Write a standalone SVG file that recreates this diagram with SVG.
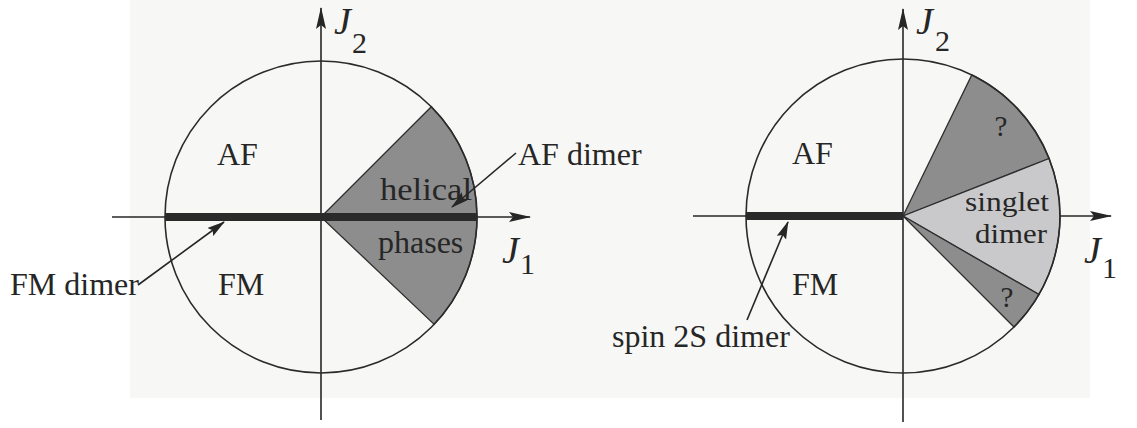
<svg xmlns="http://www.w3.org/2000/svg" width="1137" height="428" viewBox="0 0 1137 428">
<style>
.t{font-family:"Liberation Serif","Times New Roman",serif;font-size:32px;fill:#262626}
.sd{font-family:"Liberation Serif","Times New Roman",serif;font-size:28px;fill:#262626}
.j{font-family:"Liberation Serif","Times New Roman",serif;font-size:38px;font-style:italic;fill:#262626}
.s{font-family:"Liberation Serif","Times New Roman",serif;font-size:30px;fill:#262626}
.q{font-family:"Liberation Serif","Times New Roman",serif;font-size:29px;fill:#262626;text-anchor:middle}
.axis{stroke:#262626;stroke-width:1.6;fill:none}
.bar{stroke:#2a2a2a;stroke-width:8;fill:none}
.circ{stroke:#2a2a2a;stroke-width:1.6;fill:none}
.dark{fill:#8d8d8d;stroke:#2e2e2e;stroke-width:1.3}
.light{fill:#c9c9cb;stroke:#2e2e2e;stroke-width:1.3}
.ptr{stroke:#262626;stroke-width:1.6;fill:none}
</style>
<defs>
<marker id="ax" viewBox="0 0 22 10" refX="21" refY="5" markerWidth="22" markerHeight="10" markerUnits="userSpaceOnUse" orient="auto">
<path d="M0,0 L22,5 L0,10 L4,5 Z" fill="#262626"/>
</marker>
<marker id="pt" viewBox="0 0 18 10" refX="17" refY="5" markerWidth="18" markerHeight="10" markerUnits="userSpaceOnUse" orient="auto">
<path d="M0,0 L18,5 L0,10 L3,5 Z" fill="#262626"/>
</marker>
</defs>
<rect x="0" y="0" width="1137" height="428" fill="#ffffff"/>
<rect x="130" y="0" width="960" height="398" fill="#f7f7f5"/>

<g id="connectors">
<line class="axis" x1="321" y1="420" x2="321" y2="8" marker-end="url(#ax)"/>
<line class="axis" x1="112" y1="217" x2="530" y2="217" marker-end="url(#ax)"/>
<line class="axis" x1="903" y1="422" x2="903" y2="9" marker-end="url(#ax)"/>
<line class="axis" x1="693" y1="216" x2="1111" y2="216" marker-end="url(#ax)"/>
</g>

<g id="left-diagram">
<g id="helical-phases">
<path class="dark" d="M321,217 L431.3,106.7 A156,156 0 0,1 434.2,324.4 Z"/>
<text class="t" x="380" y="200" textLength="92" lengthAdjust="spacingAndGlyphs">helical</text>
<text class="t" x="378" y="253">phases</text>
</g>
<circle class="circ" cx="321" cy="217" r="156"/>
<g id="af-dimer-bar"><line class="bar" x1="165" y1="217" x2="477" y2="217"/></g>
<g id="left-af"><text class="t" x="217" y="165">AF</text></g>
<g id="left-fm"><text class="t" x="218" y="295">FM</text></g>
<g id="left-j2"><text class="j" x="334" y="34">J</text><text class="s" x="352" y="53">2</text></g>
<g id="left-j1"><text class="j" x="502" y="263">J</text><text class="s" x="520" y="274">1</text></g>
<g id="af-dimer-label"><text class="t" x="518" y="165">AF dimer</text></g>
<g id="fm-dimer-label"><text class="t" x="10" y="295">FM dimer</text></g>
</g>

<g id="right-diagram">
<g id="q-upper">
<path class="dark" d="M903,216 L971.8,74.9 A157,157 0 0,1 1049.1,158.5 Z"/>
<text class="q" x="1001" y="136">?</text>
</g>
<g id="singlet-dimer">
<path class="light" d="M903,216 L1049.1,158.5 A157,157 0 0,1 1039,294.5 Z"/>
<text class="sd" x="965" y="211" textLength="84" lengthAdjust="spacingAndGlyphs">singlet</text>
<text class="sd" x="975" y="243" textLength="72" lengthAdjust="spacingAndGlyphs">dimer</text>
</g>
<g id="q-lower">
<path class="dark" d="M903,216 L1039,294.5 A157,157 0 0,1 1014,327 Z"/>
<text class="q" x="1007" y="307">?</text>
</g>
<circle class="circ" cx="903" cy="216" r="157"/>
<g id="spin-bar"><line class="bar" x1="746" y1="216" x2="903" y2="216"/></g>
<g id="right-af"><text class="t" x="792" y="164">AF</text></g>
<g id="right-fm"><text class="t" x="792" y="295">FM</text></g>
<g id="right-j2"><text class="j" x="916" y="34">J</text><text class="s" x="935" y="51">2</text></g>
<g id="right-j1"><text class="j" x="1084" y="263">J</text><text class="s" x="1102" y="278">1</text></g>
<g id="spin-label"><text class="t" x="612" y="347">spin 2S dimer</text></g>
</g>

<g id="pointer-connectors">
<line class="ptr" x1="516" y1="153" x2="452" y2="207" marker-end="url(#pt)"/>
<line class="ptr" x1="138" y1="285" x2="224" y2="222" marker-end="url(#pt)"/>
<line class="ptr" x1="747" y1="320" x2="788" y2="222" marker-end="url(#pt)"/>
</g>
</svg>
